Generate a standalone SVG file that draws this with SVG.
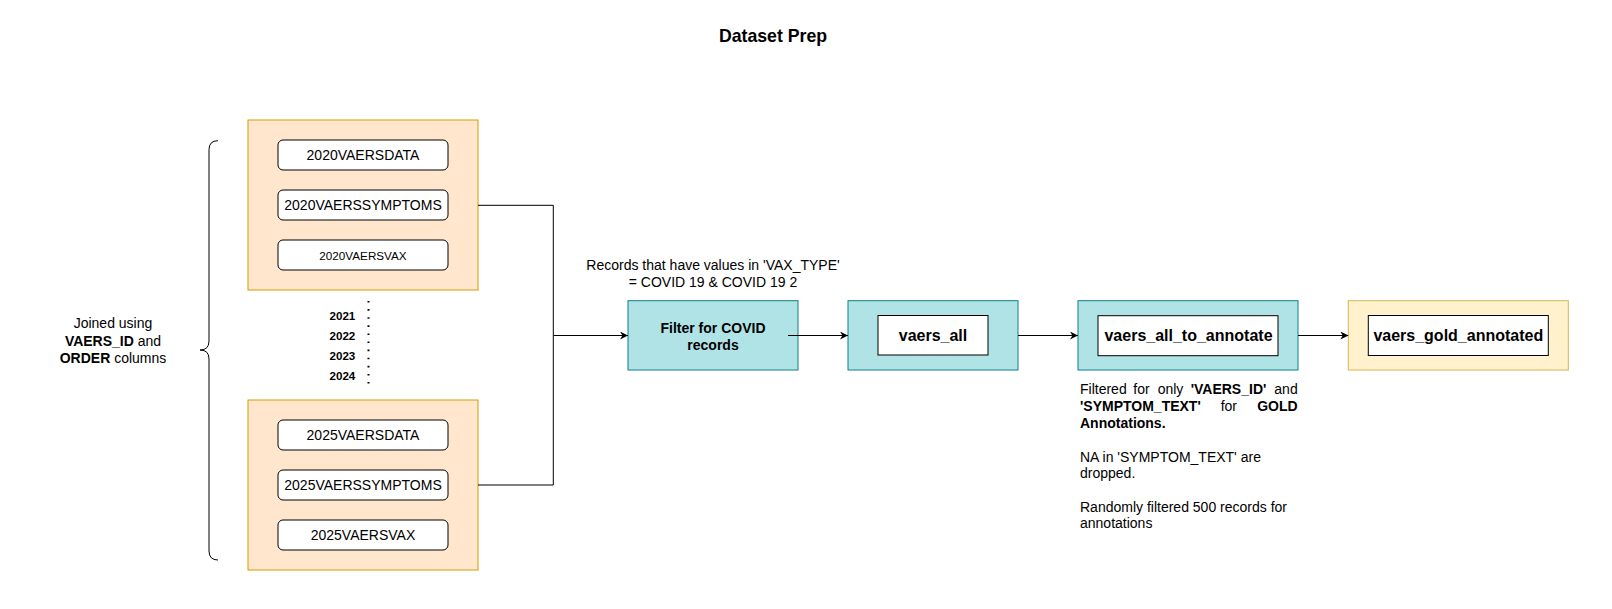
<svg xmlns="http://www.w3.org/2000/svg" width="1612" height="609" viewBox="0 0 1612 609">
<style>
text{font-family:"Liberation Sans",Arial,sans-serif;fill:#000}
.t{font-size:14px}
.c{text-anchor:middle}
.b{font-weight:bold}
.grp{fill:#ffe6cc;stroke:#d79b00;stroke-width:1}
.src{fill:#fff;stroke:#000;stroke-width:1}
.teal{fill:#b0e3e6;stroke:#0e8088;stroke-width:1}
.gold{fill:#fff2cc;stroke:#d6b656;stroke-width:1}
.inner{fill:#fff;stroke:#000;stroke-width:1}
.edge{fill:none;stroke:#000;stroke-width:1}
.yr{font-size:11.6px;font-weight:bold;text-anchor:end}
</style>
<defs>
<marker id="arr" viewBox="0 0 10 10" refX="10" refY="5" markerWidth="8" markerHeight="8" markerUnits="userSpaceOnUse" orient="auto">
<path d="M0,0 L10,5 L0,10 L3,5 Z" fill="#000"/>
</marker>
</defs>
<rect width="1612" height="609" fill="#fff"/>
<text id="title" x="773" y="42" class="c b" font-size="17.7px">Dataset Prep</text>

<g id="group2020">
<rect class="grp" x="248" y="120" width="230" height="170"/>
<g id="n2020data"><rect class="src" x="278" y="140" width="170" height="30" rx="5"/><text class="t c" x="363" y="160">2020VAERSDATA</text></g>
<g id="n2020sym"><rect class="src" x="278" y="190" width="170" height="30" rx="5"/><text class="t c" x="363" y="210">2020VAERSSYMPTOMS</text></g>
<g id="n2020vax"><rect class="src" x="278" y="240" width="170" height="30" rx="5"/><text class="c" font-size="11.7px" x="363" y="259.5">2020VAERSVAX</text></g>
</g>

<g id="group2025">
<rect class="grp" x="248" y="400" width="230" height="170"/>
<g id="n2025data"><rect class="src" x="278" y="420" width="170" height="30" rx="5"/><text class="t c" x="363" y="440">2025VAERSDATA</text></g>
<g id="n2025sym"><rect class="src" x="278" y="470" width="170" height="30" rx="5"/><text class="t c" x="363" y="490">2025VAERSSYMPTOMS</text></g>
<g id="n2025vax"><rect class="src" x="278" y="520" width="170" height="30" rx="5"/><text class="t c" x="363" y="540">2025VAERSVAX</text></g>
</g>

<g id="years">
<line x1="368.5" y1="301" x2="368.5" y2="390" stroke="#000" stroke-width="2" stroke-dasharray="1.6 6.5"/>
<text class="yr" x="355.3" y="319.5">2021</text>
<text class="yr" x="355.3" y="340">2022</text>
<text class="yr" x="355.3" y="360">2023</text>
<text class="yr" x="355.3" y="380">2024</text>
</g>

<g id="bracket">
<path class="edge" d="M218,140.7 Q209,140.7 209,149.7 L209,341 Q209,350 200,350 Q209,350 209,359 L209,551 Q209,560 218,560"/>
</g>
<g id="joinLabel">
<text class="t c" x="113" y="328.3">Joined using</text>
<text class="t c" x="113" y="345.7"><tspan class="b">VAERS_ID</tspan> and</text>
<text class="t c" x="113" y="362.7"><tspan class="b">ORDER</tspan> columns</text>
</g>

<g id="filter">
<rect class="teal" x="628" y="300.7" width="170" height="69.3"/>
<text class="t c b" x="713" y="332.7">Filter for COVID</text>
<text class="t c b" x="713" y="350">records</text>
</g>
<g id="filterLabel">
<text class="t c" x="713" y="270">Records that have values in 'VAX_TYPE'</text>
<text class="t c" x="713" y="286.7">= COVID 19 &amp; COVID 19 2</text>
</g>

<g id="vaers_all">
<rect class="teal" x="848" y="300.7" width="170" height="69.3"/>
<rect class="inner" x="878" y="315.5" width="110" height="39.5"/>
<text class="c b" font-size="16px" x="933" y="340.5">vaers_all</text>
</g>

<g id="vaers_all_to_annotate">
<rect class="teal" x="1078" y="300.7" width="220" height="69.3"/>
<rect class="inner" x="1098" y="315.7" width="180" height="40"/>
<text class="c b" font-size="16px" x="1188.5" y="341">vaers_all_to_annotate</text>
</g>
<g id="annotateNote">
<text class="t" x="1080" y="394">Filtered</text>
<text class="t" x="1133.3" y="394">for</text>
<text class="t" x="1157.7" y="394">only</text>
<text class="t b" x="1190.7" y="394">'VAERS_ID'</text>
<text class="t" x="1297.7" y="394" text-anchor="end">and</text>
<text class="t b" x="1080" y="410.7">'SYMPTOM_TEXT'</text>
<text class="t" x="1220.7" y="410.7">for</text>
<text class="t b" x="1297.7" y="410.7" text-anchor="end">GOLD</text>
<text class="t b" x="1080" y="428.3">Annotations.</text>
<text class="t" x="1080" y="461.7">NA in 'SYMPTOM_TEXT' are</text>
<text class="t" x="1080" y="478.3">dropped.</text>
<text class="t" x="1080" y="511.7">Randomly filtered 500 records for</text>
<text class="t" x="1080" y="528.3">annotations</text>
</g>

<g id="vaers_gold_annotated">
<rect class="gold" x="1348.3" y="300.7" width="220" height="69.3"/>
<rect class="inner" x="1368.3" y="315.5" width="180" height="40"/>
<text class="c b" font-size="16px" x="1458.3" y="340.8">vaers_gold_annotated</text>
</g>

<g id="connectors">
<polyline class="edge" points="478,205.3 553.3,205.3 553.3,335.5"/>
<polyline class="edge" points="478,485 553.3,485 553.3,335.5"/>
<line class="edge" x1="553.3" y1="335.5" x2="628" y2="335.5" marker-end="url(#arr)"/>
<line class="edge" x1="788" y1="335.5" x2="848" y2="335.5" marker-end="url(#arr)"/>
<line class="edge" x1="1018" y1="335.5" x2="1078" y2="335.5" marker-end="url(#arr)"/>
<line class="edge" x1="1298" y1="335.5" x2="1348.3" y2="335.5" marker-end="url(#arr)"/>
</g>
</svg>
